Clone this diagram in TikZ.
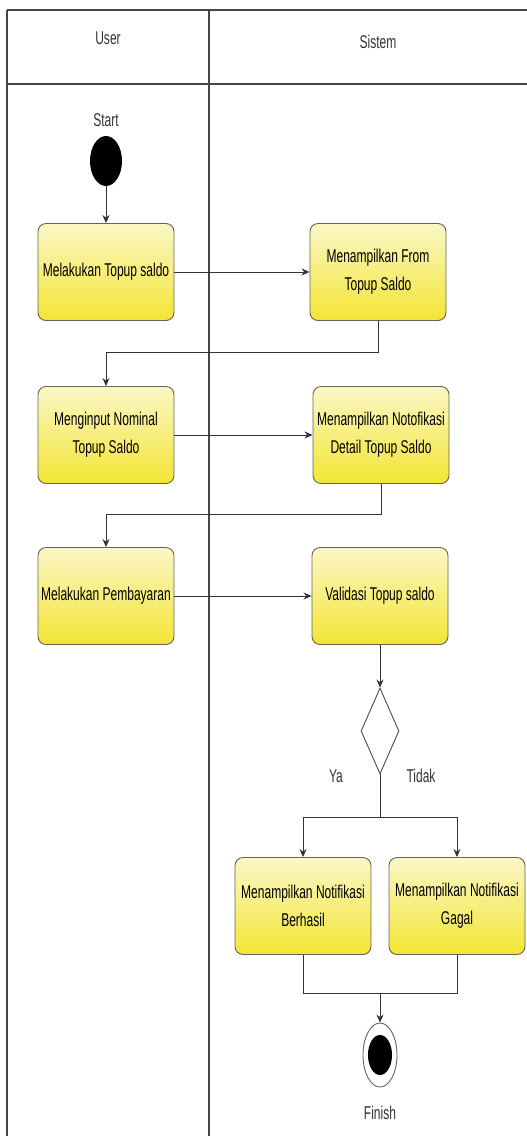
\documentclass[tikz,border=0pt]{standalone}
\usepackage{fontspec}
\setmainfont{Liberation Sans}[FakeStretch=0.65]
\usetikzlibrary{arrows.meta,shapes.geometric}
\definecolor{acttop}{RGB}{251,247,198}
\definecolor{actbot}{RGB}{243,229,52}
\definecolor{actline}{RGB}{100,100,90}
\definecolor{laneline}{RGB}{70,70,70}
\begin{document}
\begin{tikzpicture}[x=1pt,y=-1pt,
  font=\fontsize{18.5}{28}\selectfont,
  act/.style={draw=actline,top color=acttop,bottom color=actbot,rounded corners=8pt,line width=0.9pt,minimum width=136pt,minimum height=97pt,align=center,inner sep=2pt},
  lane/.style={draw=laneline,line width=1.2pt},
  arr/.style={-{Stealth[length=8pt,width=7pt]},line width=0.9pt,draw=black!80},
  flow/.style={line width=0.9pt,draw=black!80},
  dec/.style={diamond,draw=black!70,fill=white,line width=0.9pt,minimum width=38pt,minimum height=86pt,inner sep=0pt},
  lbl/.style={text=black!80,inner sep=1pt}
]
\useasboundingbox (0,0) rectangle (527,1136);
% ---------------- swimlanes ----------------
\draw[lane] (7,10) -- (527,10);
\draw[lane] (7,84) -- (527,84);
\draw[lane] (7,10) -- (7,1136);
\draw[lane] (209,10) -- (209,1136);
\node[lbl] (huser) at (108,38) {User};
\node[lbl] (hsis) at (378,42) {Sistem};
% ---------------- start ----------------
\node[lbl] (tstart) at (106,120) {Start};
\node[ellipse,fill=black,minimum width=32pt,minimum height=50pt,inner sep=0pt] (start) at (106,161) {};
% ---------------- activities ----------------
\node[act] (a1) at (106,272) {Melakukan Topup saldo};
\node[act] (s1) at (378,272) {Menampilkan From\\Topup Saldo};
\node[act] (a2) at (106,435) {Menginput Nominal\\Topup Saldo};
\node[act] (s2) at (381,435) {Menampilkan Notofikasi\\Detail Topup Saldo};
\node[act] (a3) at (106,596) {Melakukan Pembayaran};
\node[act] (s3) at (380,596) {Validasi Topup saldo};
\node[dec] (cek) at (380,731) {};
\node[lbl] (ya) at (336,776) {Ya};
\node[lbl] (tidak) at (421,776) {Tidak};
\node[act] (b1) at (303,906) {Menampilkan Notifikasi\\Berhasil};
\node[act] (b2) at (457,906) {Menampilkan Notifikasi\\Gagal};
% ---------------- finish ----------------
\node[ellipse,draw=black!60,fill=white,line width=0.9pt,minimum width=34pt,minimum height=64pt,inner sep=0pt] (fin) at (380,1055) {};
\node[ellipse,fill=black,minimum width=24pt,minimum height=40pt,inner sep=0pt] (finin) at (fin) {};
\node[lbl] (tfin) at (380,1113) {Finish};
% ---------------- connectors ----------------
\coordinate (split) at (380,817);
\coordinate (merge) at (380,993);
\draw[arr] (start) -- (a1);
\draw[arr] (a1) -- (s1);
\draw[arr] (s1.south) -- ++(0,31) -| (a2.north);
\draw[arr] (a2) -- (s2);
\draw[arr] (s2.south) -- ++(0,30) -| (a3.north);
\draw[arr] (a3) -- (s3);
\draw[arr] (s3) -- (cek);
\draw[flow] (cek.south) -- (split);
\draw[arr] (split) -| (b1.north);
\draw[arr] (split) -| (b2.north);
\draw[flow] (b1.south) |- (merge) -| (b2.south);
\draw[arr] (merge) -- (fin);
\end{tikzpicture}
\end{document}
